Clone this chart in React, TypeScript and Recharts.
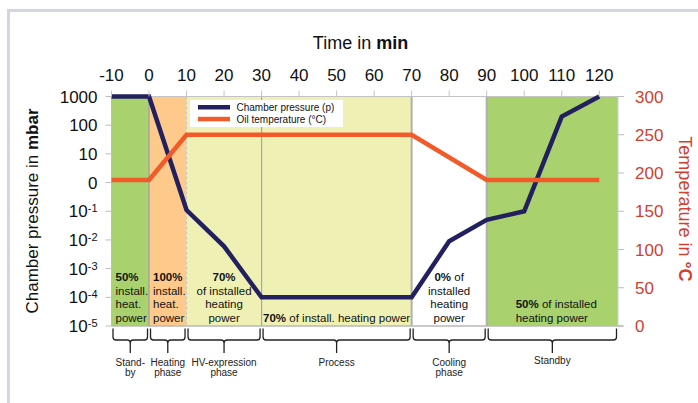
import React from 'react';
import { LineChart, Line, XAxis, YAxis, ReferenceArea } from 'recharts';

// ---------- data ----------
const timeTicks = [-10, 0, 10, 20, 30, 40, 50, 60, 70, 80, 90, 100, 110, 120];
const pressureTicks = [1e-5, 1e-4, 1e-3, 1e-2, 1e-1, 1, 10, 100, 1000];
const temperatureTicks = [0, 50, 100, 150, 200, 250, 300];

const pressureTimes = [-10, 0, 10, 20, 30, 70, 80, 90, 100, 110, 120];
const pressureValues = [1000, 1000, 0.11, 0.006, 0.0001, 0.0001, 0.009, 0.05, 0.1, 200, 1000];

const temperatureTimes = [-10, 0, 10, 70, 90, 120];
const temperatureValues = [191, 191, 250, 250, 191, 191];

const phaseStarts = [-10, 0, 10, 30, 70, 90];
const phaseEnds = [0, 10, 30, 70, 90, 125];
const phaseNames = [
  ['Stand-', 'by'],
  ['Heating', 'phase'],
  ['HV-expression', 'phase'],
  ['Process'],
  ['Cooling', 'phase'],
  ['Standby'],
];
// each line: [bold part, regular part]
const powerLines: string[][][] = [
  [['50%', ''], ['', 'install.'], ['', 'heat.'], ['', 'power']],
  [['100%', ''], ['', 'install.'], ['', 'heat.'], ['', 'power']],
  [['70%', ''], ['', 'of installed'], ['', 'heating'], ['', 'power']],
  [['70%', ' of install. heating power']],
  [['0%', ' of'], ['', 'installed'], ['', 'heating'], ['', 'power']],
  [['50%', ' of installed'], ['', 'heating power']],
];

const pressureData = pressureTimes.map((t, i) => ({ t, p: pressureValues[i] }));
const temperatureData = temperatureTimes.map((t, i) => ({ t, temp: temperatureValues[i] }));

// ---------- styles ----------
const FONT = '"Liberation Sans", Arial, Helvetica, sans-serif';
const NAVY = '#23205f';
const ORANGE = '#f15a29';
const RED = '#d0402f';
const AXIS = '#c4c4c4';
const phaseFills = ['#a9d16d', '#fdca8b', '#eff0b4', '#eff0b4', '#ffffff', '#a9d16d'];
const boundaryStyles = [
  { s: '#bdbdbd', w: 1, d: undefined },
  { s: '#a6a6a6', w: 1.5, d: undefined },
  { s: '#c8c8c8', w: 1, d: '3 2' },
  { s: '#a6a6a6', w: 1.2, d: undefined },
  { s: '#b0b0b0', w: 2, d: undefined },
  { s: '#b0b0b0', w: 2, d: undefined },
];
const textAlign = ['start', 'start', 'middle', 'middle', 'middle', 'start'];
const textOffset = [4, 4, 0, 0, 0, 29];

const makeShape = (i: number) => (p: any) => {
  const { x, y, width, height } = p;
  const bottom = y + height;
  const lines = powerLines[i];
  const n = lines.length;
  const anchor = textAlign[i];
  const tx = anchor === 'middle' ? x + width / 2 : x + textOffset[i];
  const b = boundaryStyles[i];
  const last = i === phaseStarts.length - 1;
  const x1 = x + 1.5;
  const x2 = x + width - 1.5;
  const m = x + width / 2;
  const top = bottom + 2.5;
  const h = bottom + 14;
  const r = 3;
  const brace = `M${x1},${top} L${x1},${h - r} Q${x1},${h} ${x1 + r},${h} L${m - r},${h} Q${m},${h} ${m},${h + r} L${m},${bottom + 27} M${m},${h + r} Q${m},${h} ${m + r},${h} L${x2 - r},${h} Q${x2},${h} ${x2},${h - r} L${x2},${top}`;
  const names = phaseNames[i];
  const nameBase = names.length === 1 && i === 5 ? bottom + 38 : bottom + 40;
  return (
    <g>
      <rect x={x} y={y} width={width} height={height} fill={phaseFills[i]} />
      <line x1={x} x2={x + width + (last ? 5 : 0)} y1={y} y2={y} stroke={AXIS} strokeWidth={1} />
      <line x1={x} x2={x + width + (last ? 5 : 0)} y1={bottom} y2={bottom} stroke="#b8b8b8" strokeWidth={1.5} />
      <line x1={x} x2={x} y1={y} y2={bottom} stroke={b.s} strokeWidth={b.w} strokeDasharray={b.d} />
      {last && <line x1={x + width} x2={x + width} y1={y} y2={bottom} stroke="#cfcfcf" strokeWidth={1} />}
      {lines.map((ln, k) => (
        <text key={k} x={tx} y={bottom - 4.5 - (n - 1 - k) * 13.5} textAnchor={anchor} fontSize={11.5} fill="#111" fontFamily={FONT}>
          {ln[0] ? <tspan fontWeight="bold">{ln[0]}</tspan> : null}
          {ln[1] ? <tspan>{ln[1]}</tspan> : null}
        </text>
      ))}
      <path d={brace} fill="none" stroke="#222" strokeWidth={1.3} />
      {names.map((nm, k) => (
        <text key={'n' + k} x={m} y={nameBase + k * 10} textAnchor="middle" fontSize={10} fill="#222" fontFamily={FONT}>
          {nm}
        </text>
      ))}
    </g>
  );
};

const PressureTick = (props: any) => {
  const { x, y, payload } = props;
  const v = payload.value;
  let content: React.ReactNode;
  if (v >= 10) content = String(Math.round(v));
  else if (Math.abs(v - 1) < 1e-9) content = '0';
  else {
    const e = Math.round(Math.log10(v));
    content = (
      <>
        <tspan>10</tspan>
        <tspan dy={-5} fontSize={11}>{String(e)}</tspan>
      </>
    );
  }
  return (
    <text x={x} y={y} dy={6} textAnchor="end" fontSize={17} fill="#111" fontFamily={FONT}>
      {content}
    </text>
  );
};

export default function App() {
  return (
    <div style={{ position: 'absolute', left: 0, top: 0, width: 698, height: 403, background: '#fff', overflow: 'hidden', fontFamily: FONT }}>
      <div style={{ position: 'absolute', left: 7, top: 9, width: 698, height: 403, borderTop: '3px solid #d3d6de', borderLeft: '3px solid #d3d6de' }} />
      <div style={{ position: 'absolute', left: 0, top: 0 }}>
        <LineChart width={698} height={403} data={pressureData} margin={{ top: 56.5, right: 44, bottom: 77, left: 20 }}>
          <XAxis
            xAxisId="x"
            dataKey="t"
            type="number"
            orientation="top"
            domain={[-10, 125]}
            ticks={timeTicks}
            height={40}
            tickSize={6}
            tickMargin={10}
            axisLine={false}
            tickLine={{ stroke: AXIS }}
            tick={{ fontSize: 17, fill: '#111' }}
            interval={0}
          />
          <YAxis
            yAxisId="p"
            type="number"
            scale="log"
            domain={[1e-5, 1000]}
            ticks={pressureTicks}
            width={91.5}
            tickSize={6}
            tickMargin={8}
            axisLine={false}
            tickLine={{ stroke: '#bdbdbd' }}
            tick={<PressureTick />}
            interval={0}
          />
          <YAxis
            yAxisId="t"
            orientation="right"
            type="number"
            domain={[0, 300]}
            ticks={temperatureTicks}
            width={36}
            tickSize={6}
            tickMargin={11}
            axisLine={false}
            tickLine={{ stroke: '#bdbdbd' }}
            tick={{ fontSize: 17, fill: RED }}
            interval={0}
          />
          {phaseStarts.map((s, i) => (
            <ReferenceArea
              key={i}
              xAxisId="x"
              yAxisId="t"
              x1={s}
              x2={phaseEnds[i]}
              y1={0}
              y2={300}
              shape={makeShape(i)}
            />
          ))}
          <Line
            xAxisId="x"
            yAxisId="p"
            data={pressureData}
            dataKey="p"
            type="linear"
            stroke={NAVY}
            strokeWidth={4.5}
            dot={false}
            isAnimationActive={false}
          />
          <Line
            xAxisId="x"
            yAxisId="t"
            data={temperatureData}
            dataKey="temp"
            type="linear"
            stroke={ORANGE}
            strokeWidth={4.5}
            dot={false}
            isAnimationActive={false}
          />
        </LineChart>
      </div>
      <svg width={698} height={403} style={{ position: 'absolute', left: 0, top: 0, pointerEvents: 'none' }}>
        <text x={360.5} y={49} textAnchor="middle" fontSize={18} fill="#111" fontFamily={FONT}>
          <tspan>Time in </tspan>
          <tspan fontWeight="bold">min</tspan>
        </text>
        <text x={32} y={211} transform="rotate(-90 32 211)" textAnchor="middle" dominantBaseline="central" fontSize={17} fill="#111" fontFamily={FONT}>
          <tspan>Chamber pressure in </tspan>
          <tspan fontWeight="bold">mbar</tspan>
        </text>
        <text x={685} y={209} transform="rotate(90 685 209)" textAnchor="middle" dominantBaseline="central" fontSize={18} fill={RED} fontFamily={FONT}>
          <tspan>Temperature in </tspan>
          <tspan fontWeight="bold">°C</tspan>
        </text>
        <rect x={190} y={100} width={153} height={27} fill="#fff" />
        <rect x={198} y={105} width={32} height={4.5} fill={NAVY} />
        <rect x={198} y={116.8} width={32} height={4.5} fill={ORANGE} />
        <text x={236.5} y={111} fontSize={10} fill="#111" fontFamily={FONT}>Chamber pressure (p)</text>
        <text x={236.5} y={123} fontSize={10} fill="#111" fontFamily={FONT}>Oil temperature (°C)</text>
      </svg>
    </div>
  );
}
